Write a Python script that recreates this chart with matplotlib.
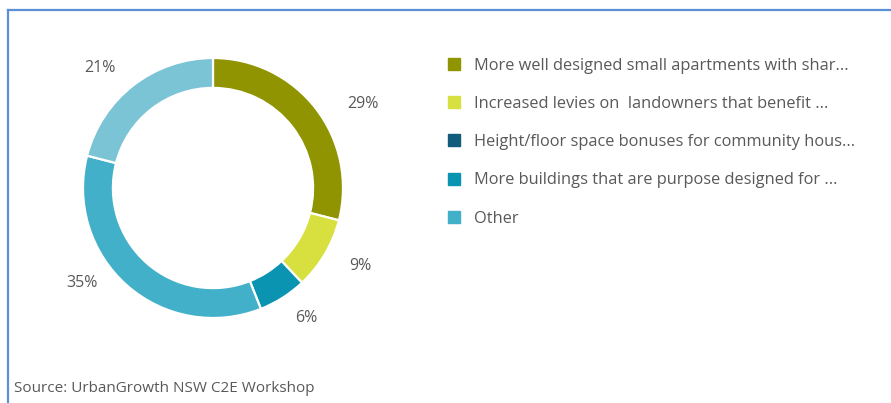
import matplotlib
matplotlib.use("Agg")
import matplotlib.pyplot as plt
from matplotlib.lines import Line2D

plt.rcParams["font.family"] = ["Open Sans", "DejaVu Sans"]

# Survey shares in ring order (clockwise from 12 o'clock).
categories = [
    "More well designed small apartments with shar...",
    "Increased levies on  landowners that benefit ...",
    "Height/floor space bonuses for community hous...",
    "More buildings that are purpose designed for ...",
    "Other",
    "",
]
shares = [29, 9, 0, 6, 35, 21]
colors = ["#8f9400", "#d8e03f", "#115c7d", "#0a94b1", "#42b0c9", "#7bc4d5"]
n_legend = 5
source = "Source: UrbanGrowth NSW C2E Workshop"

# where each percentage sits, in units of the outer radius
label_xy = {29: (1.15, 0.65), 9: (1.13, -0.60), 6: (0.72, -1.0),
            35: (-1.01, -0.73), 21: (-0.87, 0.92)}

TEXT = "#595959"
W, H = 891, 403
cx, cy, R = 213, 188, 130

fig = plt.figure(figsize=(W / 100, H / 100), dpi=100)
fig.patch.set_facecolor("white")

ax = fig.add_axes([(cx - R) / W, (H - cy - R) / H, 2 * R / W, 2 * R / H])
ax.set_aspect("equal")
ax.axis("off")

vals = [v for v in shares if v > 0]
cols = [c for v, c in zip(shares, colors) if v > 0]
wedges, _ = ax.pie(
    vals,
    colors=cols,
    startangle=90,
    counterclock=False,
    radius=1.0,
    wedgeprops=dict(width=0.23, edgecolor="white", linewidth=1.6),
)
for v in vals:
    x, y = label_xy[v]
    ax.text(x, y, f"{v}%", color=TEXT, fontsize=11.5, ha="center", va="center")
ax.set_xlim(-1, 1)
ax.set_ylim(-1, 1)

handles = [
    Line2D([], [], marker="s", linestyle="none", markersize=8,
           markerfacecolor=colors[i], markeredgecolor=colors[i])
    for i in range(n_legend)
]
fig.legend(
    handles,
    categories[:n_legend],
    loc="upper left",
    bbox_to_anchor=(441 / W, 1 - 51 / H),
    frameon=False,
    fontsize=11.8,
    labelcolor=TEXT,
    handlelength=0.8,
    handletextpad=0.8,
    labelspacing=1.36,
    borderaxespad=0,
)

fig.text(14 / W, 1 - 389 / H, source, color=TEXT, fontsize=11, va="center", ha="left")

# frame lines along the top and left edge
blue = "#5b8fd8"
fig.add_artist(Line2D([8 / W, 1], [1 - 10 / H, 1 - 10 / H], color=blue, lw=1.6,
                      transform=fig.transFigure))
fig.add_artist(Line2D([8 / W, 8 / W], [0, 1 - 10 / H], color=blue, lw=1.6,
                      transform=fig.transFigure))

fig.savefig("out.png", dpi=100)
